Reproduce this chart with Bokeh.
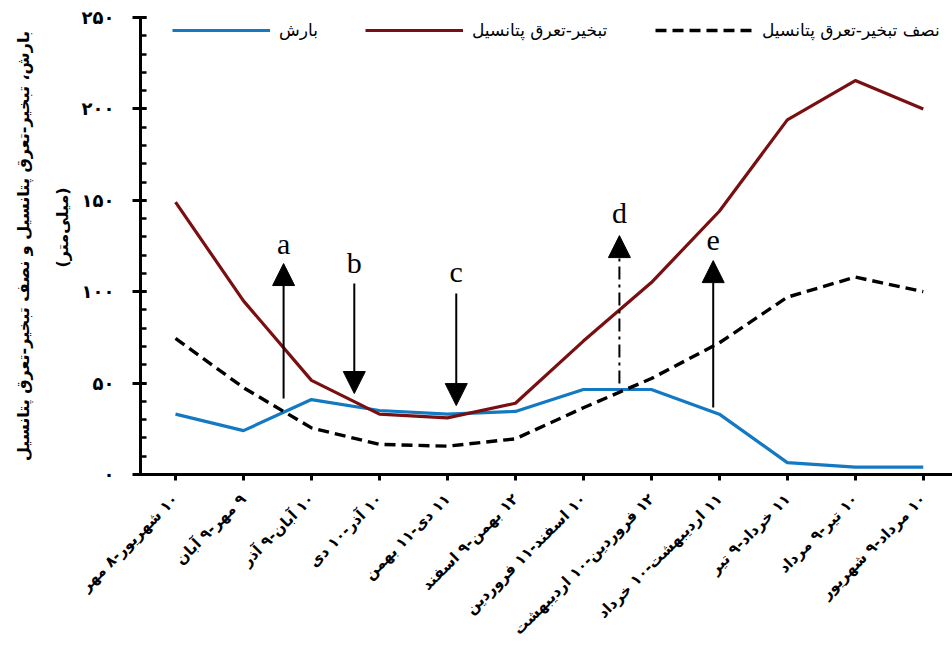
import math

from bokeh.core.properties import value
from bokeh.embed import file_html
from bokeh.models import (Arrow, ColumnDataSource, FixedTicker, Legend,
                          LegendItem, NormalHead, Range1d, Title)
from bokeh.plotting import figure
from bokeh.resources import INLINE

# Twelve roughly one-month periods of the Persian calendar
periods = [
    "۱۰ شهریور-۸ مهر", "۹ مهر-۹ آبان", "۱۰ آبان-۹ آذر", "۱۰ آذر-۱۰ دی",
    "۱۱ دی-۱۱ بهمن", "۱۲ بهمن-۹ اسفند", "۱۰ اسفند-۱۱ فروردین",
    "۱۲ فروردین-۱۰ اردیبهشت", "۱۱ اردیبهشت-۱۰ خرداد", "۱۱ خرداد-۹ تیر",
    "۱۰ تیر-۹ مرداد", "۱۰ مرداد-۹ شهریور",
]

# Values in millimetres
precip = [33, 24, 41, 35, 33, 34.5, 46.5, 46.5, 33, 6.5, 4, 4]
pet = [149, 95, 51.5, 33, 31, 39, 73, 105, 144, 194, 215.5, 200]
half_pet = [74.5, 47.5, 25.5, 16.5, 15.5, 19.5, 36.5, 52.5, 72, 97, 108, 100]

# Y-axis ticks and their Persian labels
y_ticks = [0, 50, 100, 150, 200, 250]
y_tick_labels = ["۰", "۵۰", "۱۰۰", "۱۵۰", "۲۰۰", "۲۵۰"]

# Season markers: position, start and end of each arrow, letter baseline
marker_names = ["a", "b", "c", "d", "e"]
marker_x = [1.59, 2.63, 4.13, 6.53, 7.91]
marker_from = [41.6, 104.5, 99.0, 49.8, 36.7]
marker_to = [115.4, 44.3, 37.7, 130.7, 117.0]
marker_text_y = [126.5, 116.0, 111.0, 143.5, 128.0]
marker_dashed = [False, False, False, True, False]

legend_names = ["بارش", "تبخیر-تعرق پتانسیل", "نصف تبخیر-تعرق پتانسیل"]
y_title = "بارش، تبخیر-تعرق پتانسیل و نصف تبخیر-تعرق پتانسیل"
y_unit = "(میلی‌متر)"

FA_FONT = "DejaVu Sans"
BLUE = "#1279c2"
RED = "#7a0f12"


def rtl(s):
    """Wrap text in a right-to-left embedding so digits stay in place."""
    return "\u202b" + s + "\u202c"


x = list(range(len(periods)))
X_START, X_END = -0.515, 11.43

p = figure(
    width=952, height=651,
    x_range=Range1d(X_START, X_END), y_range=Range1d(0, 250),
    output_backend="svg", toolbar_location=None,
    min_border_left=140, min_border_right=0,
    min_border_top=17, min_border_bottom=177,
)
p.outline_line_color = None
p.xgrid.visible = False
p.ygrid.visible = False
p.background_fill_color = "white"
p.border_fill_color = "white"

src = ColumnDataSource(dict(x=x, precip=precip, pet=pet, half_pet=half_pet))

r_blue = p.line("x", "precip", source=src, line_color=BLUE, line_width=3.2,
                line_join="round")
r_dash = p.line("x", "half_pet", source=src, line_color="black", line_width=3.4,
                line_dash="11 6")
r_red = p.line("x", "pet", source=src, line_color=RED, line_width=3.2,
               line_join="round")

# Axes
yax = p.yaxis[0]
yax.ticker = FixedTicker(ticks=y_ticks, minor_ticks=list(range(0, 251, 10)))
yax.major_label_overrides = dict(zip(y_ticks, y_tick_labels))
yax.axis_line_width = 3
yax.major_tick_line_width = 3
yax.minor_tick_line_width = 2.5
yax.major_tick_in = 6
yax.major_tick_out = 8
yax.minor_tick_in = 6
yax.minor_tick_out = 0
yax.major_label_standoff = 18
yax.major_label_text_font = FA_FONT
yax.major_label_text_font_size = "18px"
yax.major_label_text_font_style = "bold"
yax.major_label_text_color = "black"

xax = p.xaxis[0]
xax.ticker = FixedTicker(ticks=x, minor_ticks=[])
xax.major_label_overrides = {i: rtl(lab) for i, lab in zip(x, periods)}
xax.major_label_orientation = math.pi / 4
xax.axis_line_width = 3
xax.major_tick_line_width = 3
xax.major_tick_in = 0
xax.major_tick_out = 6
xax.major_label_standoff = 16
xax.major_label_text_font = FA_FONT
xax.major_label_text_font_size = "15px"
xax.major_label_text_font_style = "bold"
xax.major_label_text_color = "black"

# Y-axis title: unit line next to the tick labels, full title outside it
p.add_layout(Title(text=rtl(y_unit), align="left", offset=207, standoff=14,
                   text_font=FA_FONT, text_font_size="16px",
                   text_font_style="bold", text_color="black"), "left")
p.add_layout(Title(text=rtl(y_title), align="center", standoff=21,
                   text_font=FA_FONT, text_font_size="16px",
                   text_font_style="bold", text_color="black"), "left")

# Arrows marking the seasonal transitions
for i, name in enumerate(marker_names):
    head = NormalHead(size=22, fill_color="black", line_color="black", line_width=1)
    p.add_layout(Arrow(
        end=head, x_start=marker_x[i], y_start=marker_from[i],
        x_end=marker_x[i], y_end=marker_to[i],
        line_color="black", line_width=2,
        line_dash="13 5 3 5" if marker_dashed[i] else "solid",
    ))

p.text(x=marker_x, y=marker_text_y, text=marker_names,
       text_font=value("Liberation Serif"), text_font_size="30px",
       text_align="center", text_baseline="alphabetic", text_color="black")

# Horizontal legend along the top, one entry per block
legend_x = [32, 225, 515]
for renderer, name, lx in zip([r_blue, r_red, r_dash], legend_names, legend_x):
    leg = Legend(
        items=[LegendItem(label=rtl(name), renderers=[renderer])],
        location=(lx, 434), orientation="horizontal",
        glyph_width=98, glyph_height=20, label_standoff=9,
        padding=0, margin=0, border_line_color=None,
        background_fill_alpha=0,
        label_text_font=FA_FONT, label_text_font_size="17px",
        label_text_color="black",
    )
    p.add_layout(leg)

open("out.html", "w").write(file_html(p, INLINE))
